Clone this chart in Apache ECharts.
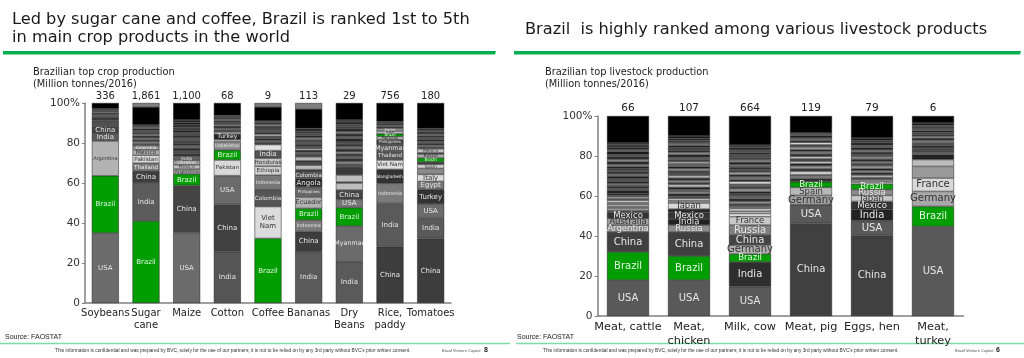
<!DOCTYPE html>
<html><head><meta charset="utf-8">
<script src="https://cdn.jsdelivr.net/npm/echarts@6/dist/echarts.min.js"></script>
<style>html,body{margin:0;padding:0;background:#fff}#c{width:1024px;height:358px}</style>
</head><body><div id="c"></div>
<script>
// ---------------- DATA ----------------
const cropCategories = ['Soybeans','Sugar\ncane','Maize','Cotton','Coffee','Bananas','Dry\nBeans','Rice,\npaddy','Tomatoes'];
const cropTotals = [336, 1861, 1100, 68, 9, 113, 29, 756, 180];
// segment shares (% of world production), bottom to top; unnamed entries are other countries
const cropNames = [
  ['USA','Brazil','Argentina','India','China'],
  ['Brazil','India','China','Thailand','Pakistan','Mexico','Colombia'],
  ['USA','China','Brazil','Argentina','Mexico','Ukraine','India'],
  ['India','China','USA','Pakistan','Brazil','Uzbekistan','','Turkey'],
  ['Brazil','Viet\nNam','Colombia','Indonesia','Ethiopia','Honduras','India'],
  ['India','China','Indonesia','Brazil','Ecuador','Philippines','Angola','Colombia'],
  ['India','Myanmar','Brazil','USA','China'],
  ['China','India','Indonesia','Bangladesh','Viet Nam','Thailand','Myanmar','Philippines','Pakistan','Brazil','USA','Japan'],
  ['China','India','USA','Turkey','Egypt','Italy','','Spain','','Brazil','Russia','','Mexico']
];
const cropValues = [
  [35,28.6,17.4,3.5,4.0, 2.7,1.8,1.2,0.8,0.6,0.7,0.5,0.4, 2.8],
  [41,19,6,3.9,4,2.7,2, 1.2,0.8,1.0,0.9,1.1,0.8,1.0,0.9,0.8,1.0,0.9, 9,2],
  [35.2,23.6,5.7,2.5,2.1,2.2,2, 1.5,1.2,1.4,1.3,1.2,1.5,1.1,1.4,1.3,1.2,1.4,1.3,1.2,1.2, 8.5],
  [25.7,23.6,14.4,7.8,5,4.2,1.0,2.8, 1.0,1.0,0.9,1.1,0.8,1.0,0.9,0.8,0.9,0.8, 6.3],
  [32.3,15.9,8.5,7.2,4.5,4.0,3.8, 3.0, 1.2,0.8,1.0,1.3,0.9,1.0,1.2,0.8,1.1,0.9,0.8,0.8, 7,2],
  [25.7,10,5.8,5.8,5.7,5,4.2,3, 1.5,2.2,1.2,1.0,2.0,1.3,1.0,1.0,0.8,1.2,1.0,1.1,1.0,1.2,1.0,1.1,1.0,1.5, 9.7,3],
  [20.7,17.8,9.2,4.1,4.7, 3.5,0.5,3.5,4, 1.5,1.2,1.4,1.3,1.2,1.0,1.4,1.3,1.2,1.1,1.5,1.2,1.3,1.1,1.4,1.2,1.1,1.1,1.0, 8.5],
  [28.2,21.6,10,7,4.7,4,3.5,2.8,1.4,1.4,1.4,1.3, 0.8,0.7,0.7,0.6,0.6, 9.3],
  [32.3,10,7.2,7.3,4,3.5,3,2,1.2,2.0,2.0,0.6,2.0, 1.0,0.8,1.0,0.9,1.0,0.9,1.0,0.8,1.0,0.9,0.9, 12.7]
];

const stockCategories = ['Meat, cattle','Meat,\nchicken','Milk, cow','Meat, pig','Eggs, hen','Meat,\nturkey'];
const stockTotals = [66, 107, 664, 119, 79, 6];
const stockNames = [
  ['USA','Brazil','China','Argentina','Australia','Mexico'],
  ['USA','Brazil','China','Russia','India','Mexico','','Japan'],
  ['USA','India','Brazil','Germany','China','Russia','France'],
  ['China','USA','Germany','Spain','Brazil'],
  ['China','USA','India','Mexico','Japan','Russia','Brazil'],
  ['USA','Brazil','Germany','France']
];
const stockValues = [
  [18,14,10,3.5,3.3,3, 1.0,1.2,0.8,1.0,0.9,1.1,0.8,1.0,0.8,1.0, 1.3,1.2,1.0,1.4,1.1,1.2,1.3,1.1,1.2,1.4,1.0,1.3,1.2,1.1,1.4,1.2,1.3,1.1,1.2,1.3, 0.8, 13.5],
  [18,12,12,3.5,3,3.3,1.7,3, 1.2,1.0,1.1,1.3,1.0,1.2,1.1,1.3,1.0,1.2,1.1,1.3,1.2,1.0,1.2,1.1,1.3,1.0,1.2,1.1,1.2,1.3,1.0,1.2,1.1,1.3,1.2,1.0, 1.3, 10],
  [14.7,12.3,4,4.5,5,5,4.2, 1.5,1.2,1.3,1.0,1.4,1.2,1.3,1.1,1.4,1.2,1.3,1.1,1.2,1.4,1.0,1.3,1.2,1.1,1.3,1.2,1.4,1.1,1.2,1.3,1.2,1.1,1.3,1.2,1.1, 0.2, 14.5],
  [46.3,9.4,4.6,4,2.8, 1.5,2.0,1.8,1.2,1.5,1.0,1.3,1.2,1.1,1.3,1.2,1.0,1.3,1.1,1.2,1.0,1.2,1.1,1.4, 8.5],
  [40.3,7.4,5.5,4.1,3,2.9,2.8, 1.0,1.2,1.0,1.3,1.1,1.2,1.0,1.3,1.1,1.2,1.0,1.3,1.1,1.2,1.0,1.3,1.1,1.2,1.1,1.3, 11],
  [44.8,10,7.5,6.7,5.8, 3.4,2.5,1.0,2.3,1.2,1.6,1.0,1.2,0.9,1.0,0.8,1.0,0.9,0.9,0.8,1.2, 3.5]
];
const yTicks = [0,20,40,60,80,100];

// ---------------- STYLE ----------------
const GREEN = '#009e00';
const cropShades = [
  ['#6b6b6b','g','#b3b3b3','#5a5a5a','#444','#505050','#3c3c3c','#666','#2e2e2e','#c8c8c8','#4a4a4a','#777','#333','#000'],
  ['g','#5c5c5c','#3d3d3d','#7a7a7a','#d4d4d4','#b0b0b0','#999','#555','#c0c0c0','#444','#888','#333','#aaa','#4d4d4d','#666','#2a2a2a','#777','#3a3a3a','#000','#7f7f7f'],
  ['#6b6b6b','#444','g','#aaa','#bdbdbd','#9a9a9a','#666','#3a3a3a','#555','#2a2a2a','#777','#333','#4a4a4a','#666','#2e2e2e','#5a5a5a','#222','#444','#333','#1e1e1e','#2a2a2a','#000'],
  ['#555','#404040','#6b6b6b','#d9d9d9','g','#8c8c8c','#cfcfcf','#2a2a2a','#c8c8c8','#444','#777','#333','#999','#555','#3a3a3a','#888','#2a2a2a','#666','#000'],
  ['g','#dcdcdc','#555','#777','#d0d0d0','#c4c4c4','#555','#e0e0e0','#444','#888','#2a2a2a','#555','#ececec','#333','#666','#222','#4a4a4a','#999','#2e2e2e','#555','#000','#777'],
  ['#5a5a5a','#3d3d3d','#7a7a7a','g','#b0b0b0','#666','#2a2a2a','#555','#444','#bbb','#555','#333','#b5b5b5','#444','#777','#2e2e2e','#f0f0f0','#555','#333','#666','#3a3a3a','#888','#2a2a2a','#555','#444','#2e2e2e','#000','#808080'],
  ['#5a5a5a','#6b6b6b','g','#777','#444','#bdbdbd','#444','#bdbdbd','#3a3a3a','#555','#999','#333','#666','#444','#aaa','#2e2e2e','#777','#3a3a3a','#555','#222','#666','#333','#888','#2a2a2a','#444','#555','#1e1e1e','#333','#000'],
  ['#3d3d3d','#5a5a5a','#7a7a7a','#333','#dedede','#555','#5a5a5a','#444','#c8c8c8','g','#bbb','#999','#444','#888','#2e2e2e','#666','#333','#000'],
  ['#3d3d3d','#5a5a5a','#6b6b6b','#333','#777','#dadada','#8a8a8a','#d0d0d0','#444','g','#aaa','#444','#c0c0c0','#555','#999','#333','#777','#2a2a2a','#666','#3a3a3a','#888','#222','#555','#2e2e2e','#000']
];
const stockShades = [
  ['#595959','g','#404040','#8c8c8c','#a0a0a0','#333','#555','#b0b0b0','#888','#d0d0d0','#999','#e0e0e0','#777','#c0c0c0','#555','#333','#222','#555','#333','#777','#2a2a2a','#666','#1e1e1e','#888','#333','#555','#222','#777','#2e2e2e','#999','#333','#555','#1a1a1a','#666','#222','#444','#111','#000'],
  ['#595959','g','#404040','#8c8c8c','#222','#333','#2a2a2a','#d8d8d8','#999','#e8e8e8','#555','#333','#aaa','#666','#222','#d0d0d0','#444','#888','#2e2e2e','#bbb','#555','#333','#999','#1e1e1e','#777','#ccc','#444','#666','#2a2a2a','#888','#333','#555','#222','#777','#444','#2e2e2e','#1a1a1a','#000'],
  ['#595959','#2e2e2e','g','#b0b0b0','#444','#808080','#c8c8c8','#e8e8e8','#bbb','#ddd','#888','#555','#999','#333','#777','#555','#222','#aaa','#444','#666','#e0e0e0','#333','#888','#2a2a2a','#bbb','#555','#333','#777','#1e1e1e','#999','#444','#666','#2e2e2e','#555','#222','#444','#111','#000'],
  ['#404040','#595959','#a0a0a0','#b8b8b8','g','#333','#777','#c8c8c8','#444','#999','#222','#bbb','#555','#ddd','#333','#888','#2a2a2a','#aaa','#555','#e0e0e0','#333','#777','#222','#555','#000'],
  ['#404040','#595959','#222','#333','#c8c8c8','#8c8c8c','g','#e0e0e0','#999','#555','#bbb','#333','#888','#222','#aaa','#444','#777','#2a2a2a','#999','#555','#333','#888','#222','#666','#2e2e2e','#444','#1e1e1e','#000'],
  ['#595959','g','#a8a8a8','#d8d8d8','#9a9a9a','#bdbdbd','#222','#777','#4a4a4a','#2e2e2e','#555','#999','#333','#aaa','#444','#666','#2a2a2a','#777','#333','#555','#1e1e1e','#000']
];

const FONT = '"DejaVu Sans", Verdana, sans-serif';
const NARROW = '"Liberation Sans Narrow", "Liberation Sans", Arial, sans-serif';

function lightness(hex){
  let h = hex.replace('#','');
  if (h.length === 3) h = h.split('').map(c => c + c).join('');
  return parseInt(h.slice(0,2),16);
}
function leftFont(name, v){
  const lines = name.split('\n');
  const len = Math.max(...lines.map(l => l.length));
  return Math.max(4, Math.min(7, 26/(0.58*len), v*2*1.1/lines.length));
}
function rightFont(name, v){ return v >= 4.5 ? 10 : 8.5; }

function buildSeries(values, names, shades, totals, axisIdx, stackName, barW, fontFn, totalFont){
  const maxLen = Math.max(...values.map(v => v.length));
  const out = [];
  for (let k = 0; k < maxLen; k++){
    const data = values.map((vals, i) => {
      if (k >= vals.length) return '-';
      const name = names[i][k] || '';
      const top = (k === vals.length - 1);
      const shade = shades[i][k];
      const color = name === 'Brazil' ? GREEN : shade;
      const item = { value: vals[k], itemStyle: { color: color } };
      if (top) {
        item.label = { show: true, position: 'top', distance: 2, formatter: totals[i].toLocaleString('en-US'),
          color: '#222', fontSize: totalFont, fontFamily: FONT };
      } else if (name) {
        item.label = { show: true, position: 'inside', formatter: name, fontFamily: FONT,
          fontSize: fontFn(name, vals[k]), lineHeight: fontFn(name, vals[k]) * 1.15,
          color: name === 'Brazil' ? '#e3f6e3' : (lightness(shade) > 0x9c ? '#333' : '#e6e6e6') };
      }
      return item;
    });
    out.push({ type: 'bar', stack: stackName, xAxisIndex: axisIdx, yAxisIndex: axisIdx, barWidth: barW,
      data: data, silent: true, animation: false,
      itemStyle: { borderColor: '#1e1e1e', borderWidth: 0.5 }, label: { show: false } });
  }
  return out;
}

function yAxis(gridIndex){
  return { type: 'value', gridIndex, min: 0, max: 100, interval: 20,
    axisLine: { show: true, lineStyle: { color: '#808080', width: 1.5 } },
    axisTick: { show: true, length: 3, lineStyle: { color: '#808080' } },
    splitLine: { show: false },
    axisLabel: { margin: 5, fontSize: 10.5, color: '#333', fontFamily: FONT,
      formatter: v => (yTicks.includes(v) ? (v === 100 ? '100%' : String(v)) : '') } };
}
function xAxis(gridIndex, cats, fs){
  return { type: 'category', gridIndex, data: cats,
    axisLine: { show: true, lineStyle: { color: '#808080', width: 1.5 } },
    axisTick: { show: false },
    axisLabel: { interval: 0, margin: 4, fontSize: fs, lineHeight: fs + 2.5, color: '#222', fontFamily: FONT } };
}

const chart = echarts.init(document.getElementById('c'), null, { renderer: 'canvas' });
const series = [].concat(
  buildSeries(cropValues, cropNames, cropShades, cropTotals, 0, 'crop', 27, leftFont, 10),
  buildSeries(stockValues, stockNames, stockShades, stockTotals, 1, 'stock', 42, rightFont, 10.5)
);

function txt(x, y, text, font, fill){
  return { type: 'text', x: x, y: y, silent: true,
    style: { text: text, font: font, fill: fill || '#222', textVerticalAlign: 'middle', verticalAlign: 'middle' } };
}
const footer = "This information is confidential and was prepared by BVC, solely for the use of our partners; it is not to be relied on by any 3rd party without BVC's prior written consent.";

chart.setOption({
  animation: false,
  textStyle: { fontFamily: FONT },
  grid: [
    { left: 85, top: 103, width: 366, height: 200 },
    { left: 597.5, top: 116, width: 366, height: 200 }
  ],
  xAxis: [xAxis(0, cropCategories, 10), xAxis(1, stockCategories, 11.3)],
  yAxis: [yAxis(0), yAxis(1)],
  series: series,
  graphic: [
    txt(12, 19.5, 'Led by sugar cane and coffee, Brazil is ranked 1st to 5th', '16.2px ' + FONT, '#1a1a1a'),
    txt(12, 38, 'in main crop products in the world', '16.2px ' + FONT, '#1a1a1a'),
    txt(525, 29.5, 'Brazil  is highly ranked among various livestock products', '16.2px ' + FONT, '#1a1a1a'),
    { type: 'polygon', silent: true, shape: { points: [[3,51],[496,51],[495,54.5],[3,54.5]] }, style: { fill: '#00b050' } },
    { type: 'polygon', silent: true, shape: { points: [[514,51],[1021,51],[1020,54.5],[514,54.5]] }, style: { fill: '#00b050' } },
    txt(33, 72.5, 'Brazilian top crop production', '9.8px ' + FONT, '#222'),
    txt(33, 84, '(Million tonnes/2016)', '9.8px ' + FONT, '#222'),
    txt(545, 72.5, 'Brazilian top livestock production', '9.8px ' + FONT, '#222'),
    txt(545, 84, '(Million tonnes/2016)', '9.8px ' + FONT, '#222'),
    txt(5, 337, 'Source: FAOSTAT', '7px ' + NARROW, '#222'),
    txt(517, 337, 'Source: FAOSTAT', '7px ' + NARROW, '#222'),
    { type: 'line', silent: true, shape: { x1: 0, y1: 343.5, x2: 510, y2: 343.5 }, style: { stroke: '#7fdca6', lineWidth: 1.5 } },
    { type: 'line', silent: true, shape: { x1: 516, y1: 343.5, x2: 1024, y2: 343.5 }, style: { stroke: '#7fdca6', lineWidth: 1.5 } },
    txt(55, 350.5, footer, '4.8px ' + NARROW, '#333'),
    txt(442, 350.5, 'Brazil Venture Capital', '4px ' + NARROW, '#555'),
    txt(484, 350.5, '8', 'bold 7px ' + NARROW, '#222'),
    txt(543, 350.5, footer, '4.8px ' + NARROW, '#333'),
    txt(955, 350.5, 'Brazil Venture Capital', '4px ' + NARROW, '#555'),
    txt(996, 350.5, '6', 'bold 7px ' + NARROW, '#222')
  ]
});
</script></body></html>
